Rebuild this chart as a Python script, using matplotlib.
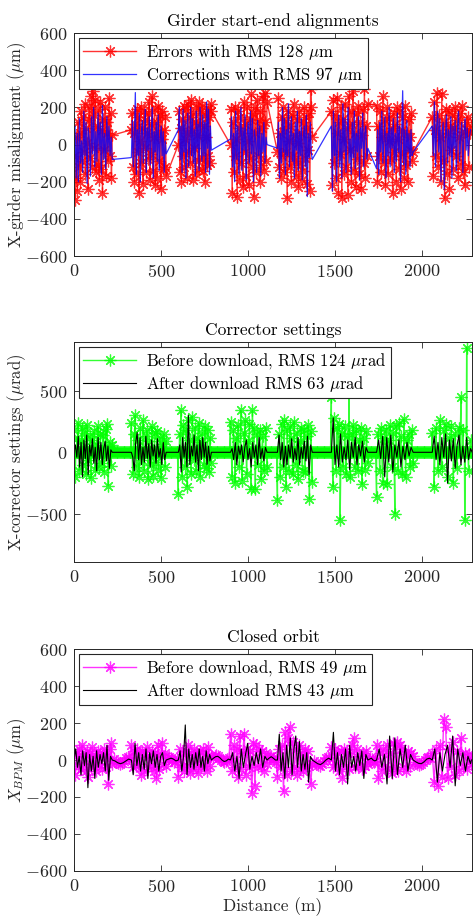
import numpy as np
import matplotlib
matplotlib.use("Agg")
import matplotlib.pyplot as plt

plt.rcParams['font.family'] = 'serif'
plt.rcParams['font.serif'] = ['cmr10', 'DejaVu Serif']
plt.rcParams['mathtext.fontset'] = 'cm'
plt.rcParams['axes.unicode_minus'] = False
plt.rcParams['axes.formatter.use_mathtext'] = True

# ---------------- data ----------------
# arcs (girder clusters) along the ring, in metres
arc_start = [0, 330, 600, 900, 1170, 1480, 1740, 2060]
arc_end = [220, 530, 790, 1110, 1370, 1690, 1950, 2280]
ring_length = 2290

# Panel 1: girder start-end alignment errors (um)
err_vals = [
    [-60, -300, -180, 40, -250, 120, -120, 60, -200, 180, -90, 150, -40, 220, -160, 90, 10, -240, 200, 130, -70, 260, -120, 290, 160, -20, 240, -150, 100, -110, 190, -190, 230, -130, 80, -260, 140, -30, 200, -170, 60, 120, -90, 250, -60, 170, -180, 50],
    [80, 170, -120, 60, -200, 110, -160, 190, -40, 150, -260, 20, 200, -100, 90, -210, 180, -20, 130, -150, 60, 170, -80, 230, -190, 110, -50, 260, -140, 40, 190, -220, 120, -180, 70, 210, -90, 160, -240, 30, 180, -130, 80, -120, 150, -170],
    [0, 180, -150, 90, -200, 140, -60, 210, -120, 30, 190, -180, 60, 220, -40, 150, -100, 240, 80, -190, 170, -20, 120, -160, 200, 50, -90, 230, -130, 110, 180, -70, 210, -140, 100, -200, 160, 40, -110, 190, -60, 150, -100, 220, 180],
    [0, 190, -260, 120, -150, 200, -60, 30, -280, 180, 90, -190, 150, -100, 60, -230, 230, -40, 110, -170, 200, 20, -220, 140, -80, 270, -120, 170, -280, 60, 200, -150, 240, -60, 130, -200, 180, -110, 90, 260, -140, 280, 120, -90, 230],
    [-40, 250, -120, 60, -180, 150, -60, 200, -150, 90, -40, 130, -290, 180, 20, -120, 100, -200, 160, -60, 220, -90, 50, -170, 140, 10, -230, 180, -110, 60, -190, 120, -140, 200, -70, 150, -210, 90, -30, 170, -250, 300, 200, 40],
    [180, -220, 240, -100, 160, -180, 60, 250, -260, 120, -50, 200, -290, 140, 30, -160, 220, -120, 90, -270, 260, -30, 180, -200, 110, 290, -140, 60, -230, 170, -80, 210, -160, 120, -240, 50, 190, -100, 300, -180, 100, -60, 220],
    [210, -200, 100, -60, 180, -150, 40, 260, -100, 130, -220, 60, 200, -160, 20, 150, -80, 90, -260, 170, -40, 110, -200, 200, 30, -130, 180, -240, 80, -60, 150, -180, 210, -110, 60, -200, 140, -30, 40, 170, -90, -40],
    [150, -170, 230, 80, -60, 280, -120, 160, 40, -200, 270, -90, 120, -290, 190, -160, 60, 180, -240, 100, -30, 160, -130, 90, 200, -60, 130, -180, 40, 170, -110, 210, -150, 70, -220, 120, 80, 150, -120, 60, 100],
]
corr_vals = [
    [-20, 100, -180, 60, -200, 140, -100, 20, -150, 180, -60, 120, -210, 90, 30, -170, 150, -50, 200, -120, 70, -90, 170, -30, 120, -160, 210, -80, 60, -130, 150, -40, 100, -60, 40, -80],
    [-70, 130, -120, 40, 280, -160, 80, -60, 170, -200, 60, 130, -100, 30, 190, -150, 90, -30, 150, -110, 40, 200, -180, 70, -40, 120, -90, 160, -140, 30, 100, -60, 70, -150, 20, -50],
    [80, 200, -80, 100, -150, 190, -40, 130, -180, 60, 170, -120, 20, 200, -60, 140, -100, 80, -170, 180, -20, 110, -140, 200, 40, -90, 160, -60, 120, -150, 230, -20, 190, -160, 100, -30],
    [30, 150, -120, 60, -200, 180, -80, 100, -160, 40, 200, -140, 90, -30, 160, -190, 60, 120, -100, 180, -50, 140, -200, 80, 20, -150, 130, -60, 100, -170, 60, -40, 120, -100, 40, 0],
    [-20, 120, -180, 60, -100, 200, -40, 140, -160, 80, -60, 220, -120, 30, 150, -90, 60, -180, 120, -30, 180, -140, 70, -60, 140, -190, 40, 100, -120, 160, -280, 60, -70, 120, -40, -80],
    [100, -250, 180, -60, 120, -200, 40, 160, -120, 80, -180, 220, -40, 140, -150, 60, 200, -100, 30, -160, 120, -70, 180, -130, 60, -40, 150, -190, 90, -20, 170, -120, 60, 100, -80, -20],
    [-130, 80, -160, 120, -40, 180, -100, 30, 150, -180, 60, -60, 200, -120, 90, -20, 140, -150, 60, -90, 170, -40, 100, -200, 50, 290, -110, 80, -160, 130, -40, 60, -120, 80, -60, -40],
    [100, -60, 230, -120, 90, 180, -40, 140, -200, 60, 120, -240, 30, 160, -100, 80, -60, 150, -180, 100, -20, 130, -140, 60, 180, -90, 40, 120, -150, 70, 140, -30, 90, -60, 40, 80],
]

# Panel 2: corrector settings (urad)
kick_before = [
    [180, -200, 120, 240, -150, 90, 200, -100, 160, -180, 220, -60, 130, -210, 100, 170, -140, 60, 210, -120, 150, -90, 140, -160, 190, 230, -270, 80, -110, 60],
    [240, -180, 150, 300, -120, 100, -200, 200, -60, 260, -150, 130, 180, -220, 90, -100, 210, -190, 160, -80, 170, -140, 120, -210, 70, 150, -120, 90],
    [-340, 150, 340, -200, 220, -120, 180, -280, 260, 100, -180, 290, -60, 200, -150, 120, 240, -200, 80, 160, -100, 210, -130, 180, -160, 120, -90],
    [250, -200, 180, -250, 120, 220, -120, 340, -230, 160, 260, -180, 90, 230, -300, 340, 200, -300, 150, -100, 180, -220, 130, -150, 200, -120],
    [-390, 150, -200, 230, -120, 260, -280, 180, -150, 210, 120, -180, 250, -100, 160, -220, 90, 200, -150, 180, -160, 130, 220, -380, 170, -240],
    [450, -280, 280, -150, 200, 230, -550, 160, -120, 210, -180, 130, 560, -200, 150, 220, -120, 180, -150, 100, 200, -260, 120, -140, 170, -90],
    [-360, 150, -150, 200, -250, 120, 180, -260, 100, 220, -120, 160, -500, 210, -150, 240, 130, -180, 270, -200, 100, 150, -120, 180, -90],
    [160, -280, 200, -150, 260, -120, 180, 230, -200, 120, 210, -250, 150, -130, 200, 450, 180, -550, 850, -150, 100],
]
kick_zero_spacing = 5  # unused correctors sit at zero all around the ring
kick_after = [
    [0, 60, -40, 130, -120, 80, -200, 100, -50, 140, -180, 60, -30, 110, -90, 40, -150, 120, -60, 80, -100, 30, 90, -70, 50, -130, 20, 0],
    [0, -40, -150, 80, 160, -60, 120, -100, 40, -80, 130, -50, 70, -120, 100, -30, 60, -90, 110, -40, 30, -100, 80, -60, 0],
    [0, 60, -160, 120, -40, 80, -120, 300, -100, 50, -30, 140, -80, 60, -150, 100, -60, 120, -40, 80, -100, 50, -70, 0],
    [0, 30, -60, 80, -100, 50, -20, 60, -80, 40, 100, -60, 30, -120, 80, -40, 60, -100, 120, -50, 30, -70, 40, 0],
    [0, 140, -60, 80, -120, 50, -100, 60, -40, 110, -80, 30, -60, 120, -100, 40, -50, 90, -70, 130, -180, 60, 0],
    [0, 280, -100, 60, -120, 150, -80, 40, -60, 100, -140, 80, -40, 120, -100, 60, -30, 90, -80, 40, 0],
    [0, 100, -50, 130, -200, 120, -80, 140, -160, 60, -40, 100, -120, 50, -60, 80, -30, 40, 0],
    [0, 130, -60, 80, -100, 120, -40, 150, -250, 100, -70, 110, -130, 60, 140, -100, 50, -80, 120, -60, 30],
]

# Panel 3: closed orbit at BPMs (um)
orbit_before = [
    [20, -80, 40, -30, 60, -50, 80, -20, 30, -60, 50, -90, 40, -40, 70, -30, 20, -60, 50, -20, 40, -50, 30, 60, -40, 20, -130, 60, 90, -20],
    [80, -40, 50, -30, 60, -20, 40, -80, 50, -60, 30, 70, -40, 20, -30, 50, -60, 40, -100, 80, -50, 30, 90, -20, 40, -30],
    [-90, 60, -40, 30, -60, 50, -30, 80, -70, 40, -50, 60, -20, 30, -70, 50, -40, 60, -30, 40, -60, 70, -30, 20],
    [140, -60, 80, -40, 60, -90, 130, -50, 40, 140, -80, 60, -40, 50, -180, 90, -140, 80, -40, 60, -30, 50, -60, 40, -20],
    [-90, 60, -40, 80, -170, 150, -80, 120, 180, -60, 100, -40, 60, -80, 80, -50, 40, -60, 60, -40, 50, -30, -130, -20],
    [70, -40, 60, -20, 40, -60, 50, -100, 60, -30, 40, -50, 30, 80, 120, -40, 60, -30, 20, -50, 40, -30, 50, -20],
    [80, -100, 40, -60, 60, -30, 80, -50, 40, -70, 90, -40, 100, -60, 80, 60, -40, 30, -60, 50, -30, 40, 20],
    [40, -120, 60, -140, 80, -90, 220, 180, -100, 60, -40, 100, -80, 50, -60, 120, -30, 40, -50, 30, -20],
]
orbit_before_gaps = [
    [5, -5, -15, -20, -15, -5, 10, 15, 10],
    [10, 15, 10, 0, -10, -5, 5],
    [10, 20, 25, 20, 10, 0, -5, -10, -5, 5, 10],
    [10, 15, 20, 10, 0, -10],
    [-5, -15, -25, -30, -20, -5, 10, 15, 10],
    [5, 10, 5, -5, -10, -5],
    [-10, -20, -25, -20, -10, 0, 10, 15, 10],
    [5, 0],
]
orbit_after = [
    [0, 60, -40, 20, -80, 50, -30, 40, -150, 30, -60, 20, -100, 50, -40, 30, -20, 40, -60, 80, -110, 20, 0],
    [0, -80, 90, -30, 40, -60, 30, -50, 60, -100, 40, -20, 50, -40, 30, -60, 20, 40, -30, 0],
    [0, 50, -60, 20, 190, -80, 60, -40, 30, -50, 40, -30, 60, -40, 20, -60, 50, -20, 30, 0],
    [0, 40, -60, 20, -100, 60, -40, 30, 90, -50, 20, -30, 40, -20, 60, -40, 20, 0],
    [0, 140, -60, 40, -100, 80, -40, 120, -80, 60, 130, -40, 100, -60, 30, -50, 40, -120, 20, 0],
    [0, 150, -60, 40, -80, 30, -40, 60, -130, 80, -40, 20, -60, 40, -30, 50, -100, 30, 0],
    [0, 60, -40, 30, -130, 130, -100, 120, -80, 60, -40, 80, -60, 30, 0],
    [0, 60, -120, 40, -60, 30, 80, -40, 130, -140, 60, -30, 40, -60, 20, -20],
]
orbit_after_gaps = [
    [-5, -15, -20, -15, -5, 5],
    [5, 10, 5, -5],
    [10, 18, 20, 12, 0, -8, -5, 5],
    [10, 18, 10, 0],
    [-10, -20, -25, -15, 0, 10],
    [5, 10, 0, -5],
    [-10, -18, -20, -10, 5, 10],
    [0],
]

# ---------------- helpers ----------------
def arc_series(vals):
    xs, ys = [], []
    for s0, s1, v in zip(arc_start, arc_end, vals):
        xs.append(np.linspace(s0, s1, len(v)))
        ys.append(np.asarray(v, float))
    return np.concatenate(xs), np.concatenate(ys)


def with_gaps(vals, gap_vals):
    xs, ys = [], []
    for i, (s0, s1, v) in enumerate(zip(arc_start, arc_end, vals)):
        xs.append(np.linspace(s0, s1, len(v)))
        ys.append(np.asarray(v, float))
        g0 = s1
        g1 = arc_start[i + 1] if i + 1 < len(arc_start) else ring_length
        g = gap_vals[i]
        gx = np.linspace(g0, g1, len(g) + 2)[1:-1]
        xs.append(gx)
        ys.append(np.asarray(g, float))
    return np.concatenate(xs), np.concatenate(ys)


# ---------------- figure ----------------
fig = plt.figure(figsize=(4.73, 9.21), dpi=100)
axc = '#262626'
fs_tick = 13
fs_lab = 12.5
fs_ylab = 12
fs_leg = 12

pos = [
    [0.1564, 0.722, 0.842, 0.242],
    [0.1564, 0.3895, 0.842, 0.2388],
    [0.1564, 0.0546, 0.842, 0.2404],
]
axes = [fig.add_axes(p) for p in pos]

star = dict(marker=(8, 2, 0), markersize=8.5, markeredgewidth=0.9)

def style(ax, yticks, ylim):
    ax.set_xlim(0, ring_length)
    ax.set_ylim(*ylim)
    ax.set_xticks([0, 500, 1000, 1500, 2000])
    ax.set_yticks(yticks)
    ax.tick_params(direction='in', top=True, right=True, labelsize=fs_tick,
                   colors=axc, length=4, width=0.6, pad=5)
    for sp in ax.spines.values():
        sp.set_color(axc)
        sp.set_linewidth(0.7)


def ylabel(ax, text):
    ax.set_ylabel(text, fontsize=fs_ylab, color=axc)
    ax.yaxis.set_label_coords(-0.115, 0.5)


def legend(ax):
    lg = ax.legend(loc='upper left', fontsize=fs_leg, fancybox=False, framealpha=1,
                   edgecolor=axc, borderaxespad=0.3, handlelength=3.2,
                   numpoints=1, borderpad=0.25, labelspacing=0.15,
                   handletextpad=0.6)
    lg.get_frame().set_linewidth(0.8)
    lg.set_zorder(10)


# Panel 1
ax = axes[0]
x, y = arc_series(err_vals)
ax.plot(x, y, color='red', lw=1.0, alpha=0.8, **star,
        label=r'Errors with RMS 128 $\mu$m')
x, y = arc_series(corr_vals)
ax.plot(x, y, color='blue', lw=0.9, alpha=0.8,
        label=r'Corrections with RMS 97 $\mu$m')
style(ax, [-600, -400, -200, 0, 200, 400, 600], (-600, 600))
ax.set_title('Girder start-end alignments', fontsize=fs_lab, color='black', pad=5)
ylabel(ax, r'X-girder misalignment ($\mu$m)')
legend(ax)

# Panel 2
ax = axes[1]
xk, yk = arc_series(kick_before)
xz = np.arange(0, ring_length + 1, kick_zero_spacing, dtype=float)
xa = np.concatenate([xk, xz])
ya = np.concatenate([yk, np.zeros_like(xz)])
order = np.argsort(xa, kind='stable')
ax.plot(xa[order], ya[order], color='#00ff00', lw=1.0, alpha=0.8, **star,
        label=r'Before download, RMS 124 $\mu$rad')
x, y = arc_series(kick_after)
x = np.concatenate([[0.0], x, [ring_length]])
y = np.concatenate([[0.0], y, [0.0]])
ax.plot(x, y, color='black', lw=0.8,
        label=r'After download RMS 63 $\mu$rad')
style(ax, [-500, 0, 500], (-893, 893))
ax.set_title('Corrector settings', fontsize=fs_lab, color='black', pad=5)
ylabel(ax, r'X-corrector settings ($\mu$rad)')
legend(ax)

# Panel 3
ax = axes[2]
x, y = with_gaps(orbit_before, orbit_before_gaps)
ax.plot(x, y, color='magenta', lw=1.0, alpha=0.8, **star,
        label=r'Before download, RMS 49 $\mu$m')
x, y = with_gaps(orbit_after, orbit_after_gaps)
ax.plot(x, y, color='black', lw=0.8,
        label=r'After download RMS 43 $\mu$m')
style(ax, [-600, -400, -200, 0, 200, 400, 600], (-600, 600))
ax.set_title('Closed orbit', fontsize=fs_lab, color='black', pad=5)
ylabel(ax, r'$X_{BPM}$ ($\mu$m)')
ax.set_xlabel('Distance (m)', fontsize=fs_lab, color=axc, labelpad=2)
legend(ax)

fig.savefig('out.png', dpi=100)
